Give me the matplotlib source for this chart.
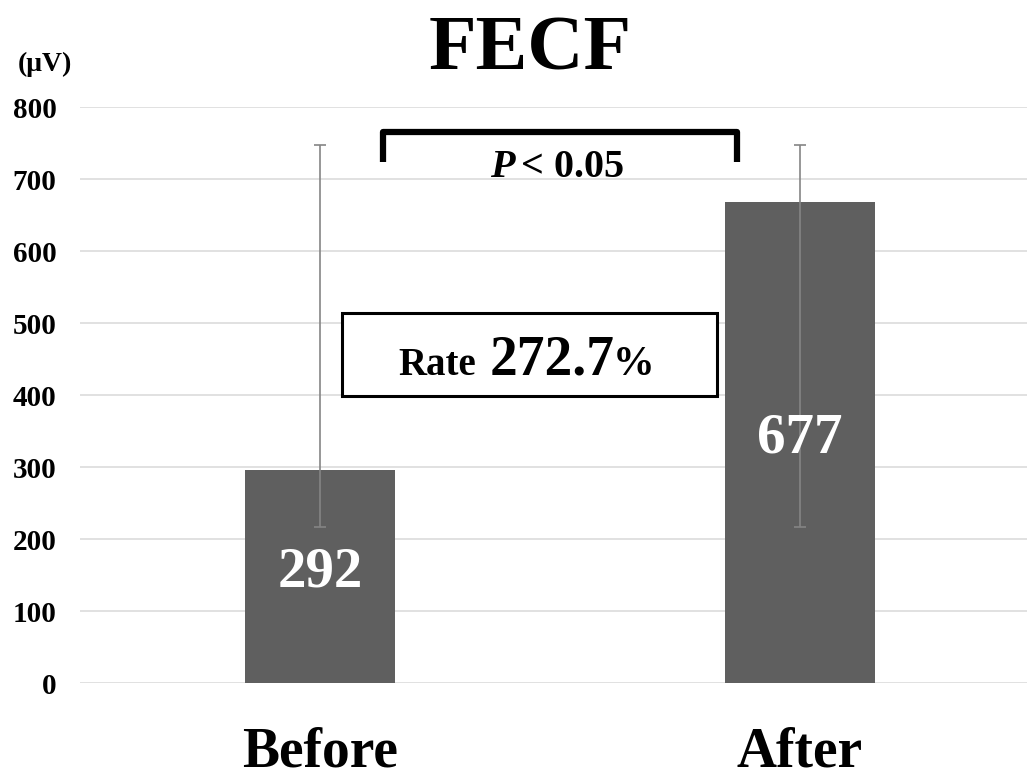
import numpy as np
import matplotlib
matplotlib.use('Agg')
import matplotlib.pyplot as plt
from matplotlib.patches import Rectangle

# フォント設定 (Times系の代わり)
plt.rcParams['font.family'] = ['Liberation Serif', 'DejaVu Serif']
plt.rcParams['font.weight'] = 'bold'

# データ
categories = ['Before', 'After']
values = [296, 668]
value_labels = ['292', '677']
err_lo = [217, 217]
err_hi = [747, 747]
yticks = [0, 100, 200, 300, 400, 500, 600, 700, 800]

W, H = 1027, 778
fig = plt.figure(figsize=(W / 100, H / 100), dpi=100)
# 軸の位置 (ピクセル基準)
ax = fig.add_axes([80 / W, (H - 683) / H, (W - 80) / W, 576 / H])

x = np.arange(len(categories))
vals = np.array(values)
yerr = [vals - np.array(err_lo), np.array(err_hi) - vals]

ax.bar(x, vals, width=0.3125, color='#5f5f5f', zorder=2)
ax.errorbar(x, vals, yerr=yerr, fmt='none', ecolor='#858585', elinewidth=1.2,
            capsize=4, capthick=1.2, zorder=3)

ax.set_xlim(-0.5, (W - 320) / 480)
ax.set_ylim(0, 800)
ax.set_yticks(yticks)
ax.set_yticklabels([str(t) for t in yticks], fontsize=21, fontweight='bold')
ax.set_xticks(x)
ax.set_xticklabels(categories, fontsize=40, fontweight='bold')
ax.tick_params(axis='y', length=0, pad=17)
ax.tick_params(axis='x', length=0, pad=31)
ax.grid(axis='y', color='#dcdcdc', linewidth=1.2, zorder=0)
ax.set_axisbelow(True)
for s in ax.spines.values():
    s.set_visible(False)

# バー内の数値
for xi, v, lab in zip(x, vals, value_labels):
    ax.text(xi, v * 0.5 + 6, lab, color='white', fontsize=41, fontweight='bold',
            ha='center', va='center', zorder=4)

# 有意差の括弧
bx0, bx1 = 0.131, 0.869
ax.plot([bx0, bx0, bx1, bx1], [724, 765, 765, 724], color='black', lw=4.5,
        solid_joinstyle='round', solid_capstyle='butt', zorder=4)
ax.text(0.354, 703, 'P', fontsize=29, fontweight='bold', style='italic',
        ha='left', va='baseline')
ax.text(0.419, 703, '< 0.05', fontsize=29, fontweight='bold',
        ha='left', va='baseline')

# 変化率の枠
ax.add_patch(Rectangle((0.046, 399), 0.781, 115, facecolor='white',
                       edgecolor='black', lw=2.2, zorder=4))
ax.text(0.163, 428, 'Rate', fontsize=28, fontweight='bold', ha='left',
        va='baseline', zorder=5)
ax.text(0.354, 428, '272.7', fontsize=40, fontweight='bold', ha='left',
        va='baseline', zorder=5)
ax.text(0.61, 428, '%', fontsize=30, fontweight='bold', ha='left',
        va='baseline', zorder=5)

# タイトルと単位
fig.text(530 / W, 1 - 42 / H, 'FECF', fontsize=56, fontweight='bold',
         ha='center', va='center_baseline')
fig.text(45 / W, 1 - 64 / H, '(μV)', fontsize=20, fontweight='bold',
         ha='center', va='center')

fig.savefig('out.png', dpi=100)
